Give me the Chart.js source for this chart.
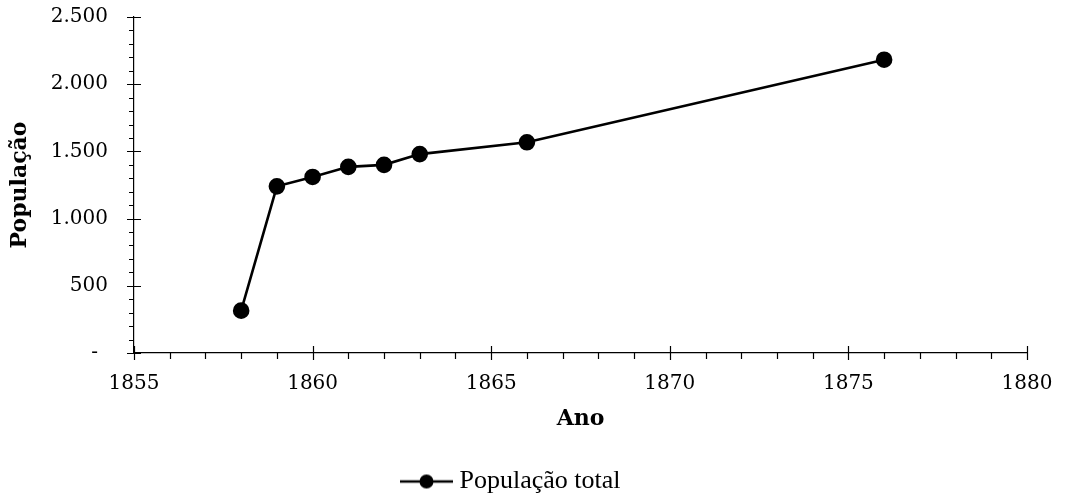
<!DOCTYPE html>
<html>
<head>
<meta charset="utf-8">
<script src="https://cdn.jsdelivr.net/npm/chart.js@4"></script>
<style>
  html, body { margin: 0; padding: 0; background: #fff; }
  #wrap { width: 1074px; height: 499px; }
</style>
</head>
<body>
<div id="wrap"><canvas id="popChart"></canvas></div>
<script>
const years = [1858, 1859, 1860, 1861, 1862, 1863, 1866, 1876];
const population = [315, 1240, 1310, 1385, 1400, 1480, 1568, 2182];
const xTicks = [1855, 1860, 1865, 1870, 1875, 1880];
const yTicks = [0, 500, 1000, 1500, 2000, 2500];

const serif = "'DejaVu Serif', serif";

const fmtPt = v => v === 0 ? "-\u2002" : String(v).replace(/\B(?=(\d{3})+(?!\d))/g, ".");

// legend symbol: line with a dot
const legendIcon = document.createElement("canvas");
legendIcon.width = 53;
legendIcon.height = 16;
(() => {
  const c = legendIcon.getContext("2d");
  c.strokeStyle = "#000";
  c.lineWidth = 2.5;
  c.beginPath();
  c.moveTo(0, 8);
  c.lineTo(53, 8);
  c.stroke();
  c.fillStyle = "#000";
  c.beginPath();
  c.arc(26.5, 8, 7, 0, Math.PI * 2);
  c.fill();
})();

// major ticks cross the axis, minor ticks point outward
const axisTicks = {
  id: "axisTicks",
  afterDraw(chart) {
    const { ctx, scales: { x, y } } = chart;
    ctx.save();
    ctx.strokeStyle = "#000";
    ctx.lineWidth = 1.2;
    ctx.beginPath();
    for (let v = 0; v <= 2500; v += 100) {
      const py = Math.round(y.getPixelForValue(v)) + 0.5;
      const major = v % 500 === 0;
      ctx.moveTo(x.left - (major ? 7 : 5), py);
      ctx.lineTo(major ? x.left + 7 : x.left, py);
    }
    for (let v = 1855; v <= 1880; v += 1) {
      const px = Math.round(x.getPixelForValue(v)) + 0.5;
      const major = v % 5 === 0;
      ctx.moveTo(px, y.bottom + (major ? 7 : 6));
      ctx.lineTo(px, major ? y.bottom - 7 : y.bottom);
    }
    ctx.stroke();
    ctx.restore();
  }
};

new Chart(document.getElementById("popChart"), {
  type: "line",
  data: {
    datasets: [{
      label: "População total",
      data: years.map((yr, i) => ({ x: yr, y: population[i] })),
      borderColor: "#000",
      backgroundColor: "#000",
      borderWidth: 2.6,
      pointRadius: 7,
      pointBackgroundColor: "#000",
      pointBorderColor: "#000",
      tension: 0
    }]
  },
  options: {
    responsive: true,
    maintainAspectRatio: false,
    animation: false,
    layout: { padding: { top: 17, right: 47, left: 0, bottom: -5.5 } },
    scales: {
      x: {
        type: "linear",
        min: 1855,
        max: 1880,
        afterBuildTicks: s => { s.ticks = xTicks.map(v => ({ value: v })); },
        afterFit: s => { s.height = 115.5; s.paddingLeft = 0; s.paddingRight = 0; },
        grid: { drawOnChartArea: false, drawTicks: false },
        border: { display: true, color: "#000", width: 1.2 },
        ticks: {
          padding: 19,
          color: "#000",
          font: { family: serif, size: 20 },
          callback: v => String(v)
        },
        title: {
          display: true,
          text: "Ano",
          color: "#000",
          font: { family: serif, size: 22, weight: "bold" },
          padding: { top: 0, bottom: 36 }
        }
      },
      y: {
        min: 0,
        max: 2500,
        afterBuildTicks: s => { s.ticks = yTicks.map(v => ({ value: v })); },
        afterFit: s => { s.width = 134; s.paddingTop = 0; s.paddingBottom = 0; },
        grid: { drawOnChartArea: false, drawTicks: false },
        border: { display: true, color: "#000", width: 1.2 },
        ticks: {
          padding: 26,
          color: "#000",
          font: { family: serif, size: 20 },
          callback: v => fmtPt(v)
        },
        title: {
          display: true,
          text: "População",
          color: "#000",
          font: { family: serif, size: 22, weight: "bold" },
          padding: { top: 7, bottom: 0 }
        }
      }
    },
    plugins: {
      legend: {
        position: "bottom",
        labels: {
          usePointStyle: true,
          pointStyleWidth: 40,
          padding: 0,
          color: "#000",
          font: { family: "'Liberation Serif', serif", size: 26 },
          generateLabels: chart => chart.data.datasets.map((ds, i) => ({
            text: ds.label,
            pointStyle: legendIcon,
            fillStyle: "#000",
            strokeStyle: "#000",
            lineWidth: 0,
            fontColor: "#000",
            datasetIndex: i
          }))
        }
      },
      tooltip: { enabled: false }
    }
  },
  plugins: [axisTicks]
});
</script>
</body>
</html>
